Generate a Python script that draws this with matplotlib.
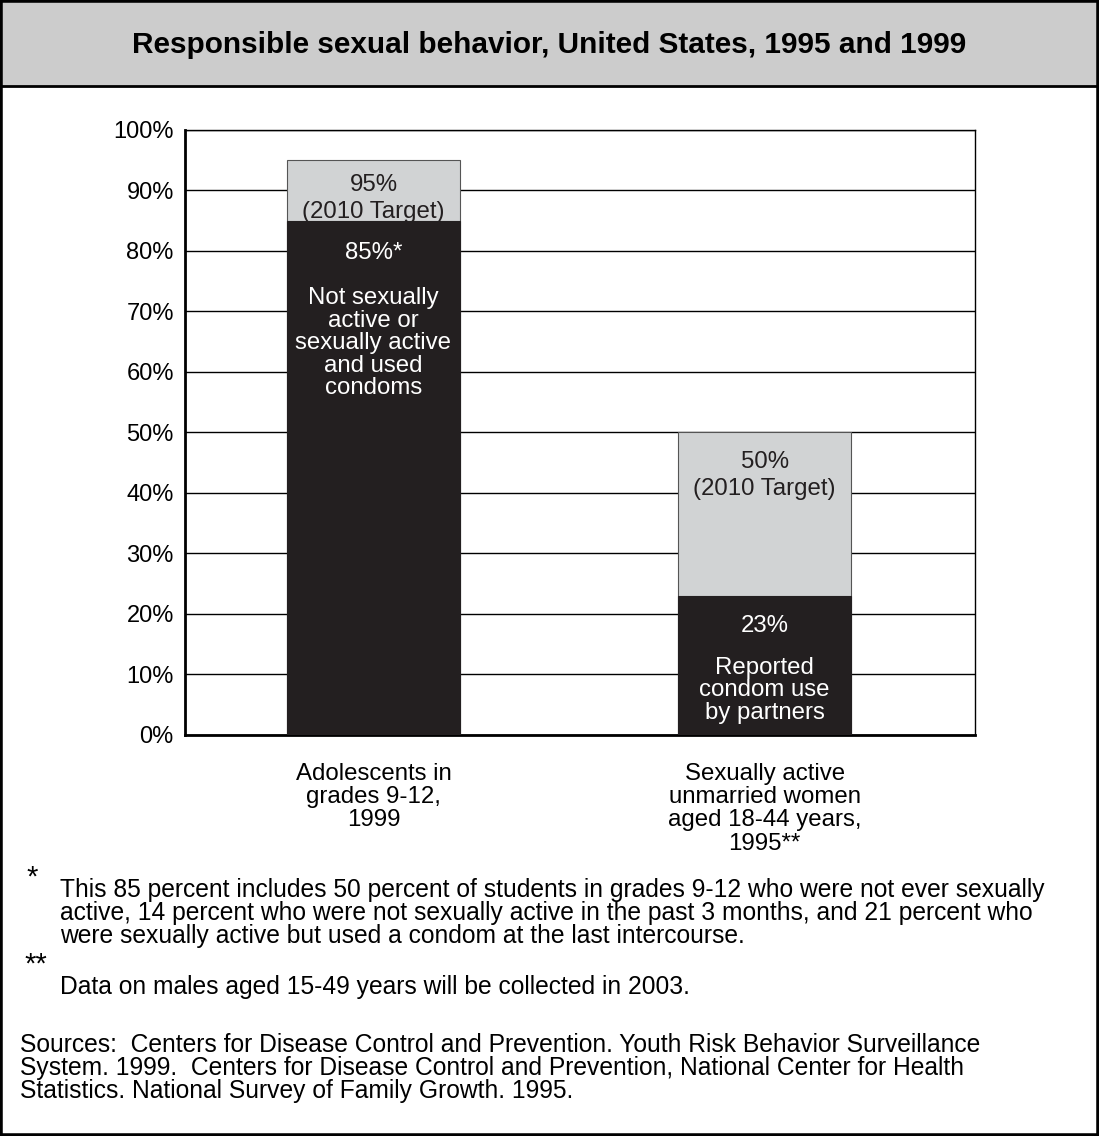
import matplotlib
matplotlib.use('Agg')
import matplotlib.pyplot as plt
from matplotlib.patches import Rectangle

plt.rcParams['font.family'] = ['Liberation Sans', 'DejaVu Sans']

# data
groups = ['Adolescents in\ngrades 9-12,\n1999',
          'Sexually active\nunmarried women\naged 18-44 years,\n1995**']
actual = [85, 23]
target = [95, 50]
actual_labels = ['85%*', '23%']
target_labels = ['95%\n(2010 Target)', '50%\n(2010 Target)']
descriptions = ['Not sexually\nactive or\nsexually active\nand used\ncondoms',
                'Reported\ncondom use\nby partners']
yticks = [0, 10, 20, 30, 40, 50, 60, 70, 80, 90, 100]

# label offsets below bar tops (points)
target_off = [-10, -13]
actual_off = [-15, -14]
desc_off = [-48, -44]

fig = plt.figure(figsize=(10.99, 11.36), dpi=100)

# title band and outer frame
fig.patches.append(Rectangle((0, 0.9243), 1, 0.0757, transform=fig.transFigure,
                             facecolor='#cccccc', edgecolor='black', lw=2, zorder=0))
fig.patches.append(Rectangle((0, 0), 1, 1, transform=fig.transFigure,
                             facecolor='none', edgecolor='black', lw=4, zorder=5))
fig.text(0.5, 0.9604, 'Responsible sexual behavior, United States, 1995 and 1999',
         ha='center', va='center', fontsize=21.4, fontweight='bold')

ax = fig.add_axes([0.1683, 0.3530, 0.7189, 0.5326])
x = [0, 1]
w = 0.4425
ax.bar(x, target, width=w, color='#d1d3d4', edgecolor='#555555', lw=0.8, zorder=2)
ax.bar(x, actual, width=w, color='#231f20', edgecolor='#231f20', lw=0.8, zorder=3)

ax.set_xlim(-0.482, 1.538)
ax.set_ylim(0, 100)
ax.set_yticks(yticks)
ax.set_yticklabels([f'{v}%' for v in yticks], fontsize=17)
ax.set_xticks(x)
ax.set_xticklabels(groups, fontsize=17.3, linespacing=1.08, va='top')
ax.tick_params(axis='both', length=0)
ax.tick_params(axis='y', pad=8)
ax.tick_params(axis='x', pad=20)
ax.yaxis.grid(True, color='black', lw=1)
ax.set_axisbelow(True)

ax.spines['left'].set_linewidth(2)
ax.spines['bottom'].set_linewidth(2)
ax.spines['top'].set_linewidth(1)
ax.spines['right'].set_linewidth(1)

for i in range(2):
    ax.annotate(target_labels[i], xy=(x[i], target[i]), xytext=(0, target_off[i]),
                textcoords='offset points', ha='center', va='top',
                fontsize=17.3, color='#231f20', linespacing=1.3, zorder=4)
    ax.annotate(actual_labels[i], xy=(x[i], actual[i]), xytext=(0, actual_off[i]),
                textcoords='offset points', ha='center', va='top',
                fontsize=17.3, color='white', zorder=4)
    ax.annotate(descriptions[i], xy=(x[i], actual[i]), xytext=(0, desc_off[i]),
                textcoords='offset points', ha='center', va='top',
                fontsize=17.3, color='white', linespacing=1.03, zorder=4)

# footnotes
fig.text(0.024, 0.2275, '*', fontsize=21, va='center', ha='left')
fig.text(0.0546, 0.2272,
         'This 85 percent includes 50 percent of students in grades 9-12 who were not ever sexually\n'
         'active, 14 percent who were not sexually active in the past 3 months, and 21 percent who\n'
         'were sexually active but used a condom at the last intercourse.',
         fontsize=17.7, va='top', ha='left', linespacing=0.94)
fig.text(0.022, 0.151, '**', fontsize=21, va='center', ha='left')
fig.text(0.0546, 0.1315, 'Data on males aged 15-49 years will be collected in 2003.',
         fontsize=17.7, va='center', ha='left')
fig.text(0.018, 0.0907,
         'Sources:  Centers for Disease Control and Prevention. Youth Risk Behavior Surveillance\n'
         'System. 1999.  Centers for Disease Control and Prevention, National Center for Health\n'
         'Statistics. National Survey of Family Growth. 1995.',
         fontsize=17.7, va='top', ha='left', linespacing=0.94)

fig.savefig('out.png', dpi=100)
